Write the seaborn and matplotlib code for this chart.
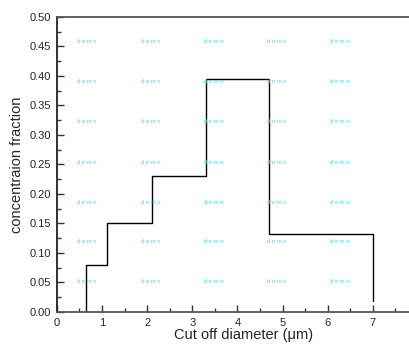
import pandas as pd
import matplotlib
matplotlib.use("Agg")
import matplotlib.pyplot as plt
from matplotlib.ticker import MultipleLocator, FormatStrFormatter
import seaborn as sns

# step outline of the size distribution
step_x = [0.65, 0.65, 1.1, 2.1, 3.3, 4.7, 7.0, 7.0]
step_y = [0.0, 0.08, 0.15, 0.23, 0.395, 0.132, 0.132, 0.018]

# watermark grid
demo_x = [0.67, 2.07, 3.47, 4.87, 6.27]
demo_y = [0.051, 0.119, 0.186, 0.254, 0.322, 0.390, 0.459]

sns.set_style("ticks")
plt.rcParams['font.family'] = ['Liberation Sans', 'DejaVu Sans']

fig = plt.figure(figsize=(4.09, 3.44), dpi=100)
ax = fig.add_axes([0.139, 0.093, 0.861, 0.858])

df = pd.DataFrame({'x': step_x, 'y': step_y})
sns.lineplot(data=df, x='x', y='y', sort=False, estimator=None,
             drawstyle='steps-post', color='black', linewidth=1.0, ax=ax)

for dx in demo_x:
    for dy in demo_y:
        ax.text(dx, dy, 'd e m o', color='#33e5ee', fontsize=4.2,
                ha='center', va='center')

ax.set_xlim(0, 7.8)
ax.set_ylim(0, 0.5)
ax.xaxis.set_major_locator(MultipleLocator(1))
ax.xaxis.set_minor_locator(MultipleLocator(0.5))
ax.yaxis.set_major_locator(MultipleLocator(0.05))
ax.yaxis.set_minor_locator(MultipleLocator(0.025))
ax.yaxis.set_major_formatter(FormatStrFormatter('%.2f'))
ax.tick_params(which='major', direction='in', length=5, width=1, labelsize=8,
               color='#333333', pad=4)
ax.tick_params(which='minor', direction='in', length=3, width=1, color='#333333')

for side in ['left', 'bottom', 'top']:
    ax.spines[side].set_linewidth(1.3)
ax.spines['left'].set_color('#222222')
ax.spines['bottom'].set_color('#555555')
ax.spines['top'].set_color('#555555')
ax.spines['right'].set_visible(False)

ax.set_xlabel('Cut off diameter (μm)', fontsize=10.5)
ax.set_ylabel('concentraion fraction', fontsize=10.5, labelpad=4)
ax.xaxis.set_label_coords(0.53, -0.055)
ax.xaxis.label.set_va('top')

fig.savefig('out.png', dpi=100)
